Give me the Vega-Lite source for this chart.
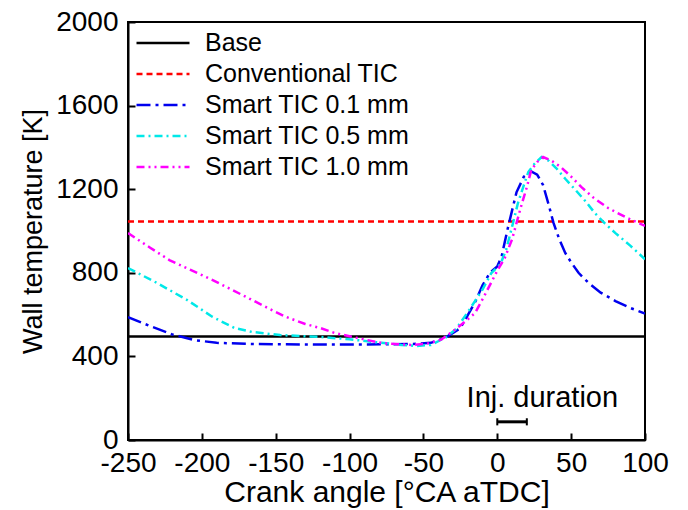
{
  "$schema": "https://vega.github.io/schema/vega-lite/v6.json",
  "autosize": {"type": "none"},
  "padding": {"left": 128, "top": 22, "right": 43, "bottom": 70},
  "width": 517,
  "height": 418,
  "config": {
    "font": "Liberation Sans",
    "view": {"stroke": "black", "strokeWidth": 2},
    "axis": {
      "grid": false,
      "domainColor": "black",
      "domainWidth": 2,
      "tickColor": "black",
      "tickWidth": 2,
      "tickSize": -7,
      "labelColor": "black",
      "titleColor": "black",
      "labelFontSize": 28,
      "titleFontWeight": "normal",
      "labelFont": "Liberation Sans",
      "titleFont": "Liberation Sans",
      "labelOverlap": false,
      "labelFlush": false,
      "labelLimit": 0,
      "labelExpr": "datum.value + ''"
    }
  },
  "data": {
    "values": [
      {"series": "Base", "x": -250, "y": 495},
      {"series": "Base", "x": 100, "y": 495},
      {"series": "Conventional TIC", "x": -250, "y": 1045},
      {"series": "Conventional TIC", "x": 100, "y": 1045},
      {"series": "Smart TIC 0.1 mm", "x": -250, "y": 588},
      {"series": "Smart TIC 0.1 mm", "x": -235, "y": 545},
      {"series": "Smart TIC 0.1 mm", "x": -220, "y": 505},
      {"series": "Smart TIC 0.1 mm", "x": -205, "y": 478},
      {"series": "Smart TIC 0.1 mm", "x": -190, "y": 465},
      {"series": "Smart TIC 0.1 mm", "x": -170, "y": 460},
      {"series": "Smart TIC 0.1 mm", "x": -150, "y": 458},
      {"series": "Smart TIC 0.1 mm", "x": -120, "y": 457},
      {"series": "Smart TIC 0.1 mm", "x": -90, "y": 457},
      {"series": "Smart TIC 0.1 mm", "x": -70, "y": 458},
      {"series": "Smart TIC 0.1 mm", "x": -55, "y": 460},
      {"series": "Smart TIC 0.1 mm", "x": -45, "y": 465},
      {"series": "Smart TIC 0.1 mm", "x": -35, "y": 490},
      {"series": "Smart TIC 0.1 mm", "x": -25, "y": 535},
      {"series": "Smart TIC 0.1 mm", "x": -15, "y": 660},
      {"series": "Smart TIC 0.1 mm", "x": -10, "y": 740},
      {"series": "Smart TIC 0.1 mm", "x": -5, "y": 800},
      {"series": "Smart TIC 0.1 mm", "x": 0, "y": 830},
      {"series": "Smart TIC 0.1 mm", "x": 3, "y": 880},
      {"series": "Smart TIC 0.1 mm", "x": 7, "y": 1010},
      {"series": "Smart TIC 0.1 mm", "x": 13, "y": 1185},
      {"series": "Smart TIC 0.1 mm", "x": 18, "y": 1260},
      {"series": "Smart TIC 0.1 mm", "x": 23, "y": 1285},
      {"series": "Smart TIC 0.1 mm", "x": 27, "y": 1270},
      {"series": "Smart TIC 0.1 mm", "x": 31, "y": 1220},
      {"series": "Smart TIC 0.1 mm", "x": 35, "y": 1120},
      {"series": "Smart TIC 0.1 mm", "x": 38, "y": 1040},
      {"series": "Smart TIC 0.1 mm", "x": 42, "y": 960},
      {"series": "Smart TIC 0.1 mm", "x": 46, "y": 895},
      {"series": "Smart TIC 0.1 mm", "x": 50, "y": 850},
      {"series": "Smart TIC 0.1 mm", "x": 55, "y": 800},
      {"series": "Smart TIC 0.1 mm", "x": 62, "y": 750},
      {"series": "Smart TIC 0.1 mm", "x": 70, "y": 705},
      {"series": "Smart TIC 0.1 mm", "x": 80, "y": 665},
      {"series": "Smart TIC 0.1 mm", "x": 90, "y": 632},
      {"series": "Smart TIC 0.1 mm", "x": 100, "y": 605},
      {"series": "Smart TIC 0.5 mm", "x": -250, "y": 823},
      {"series": "Smart TIC 0.5 mm", "x": -230, "y": 750},
      {"series": "Smart TIC 0.5 mm", "x": -210, "y": 670},
      {"series": "Smart TIC 0.5 mm", "x": -193, "y": 590},
      {"series": "Smart TIC 0.5 mm", "x": -178, "y": 536},
      {"series": "Smart TIC 0.5 mm", "x": -166, "y": 517},
      {"series": "Smart TIC 0.5 mm", "x": -147, "y": 502},
      {"series": "Smart TIC 0.5 mm", "x": -120, "y": 493},
      {"series": "Smart TIC 0.5 mm", "x": -100, "y": 482},
      {"series": "Smart TIC 0.5 mm", "x": -85, "y": 470},
      {"series": "Smart TIC 0.5 mm", "x": -65, "y": 455},
      {"series": "Smart TIC 0.5 mm", "x": -55, "y": 450},
      {"series": "Smart TIC 0.5 mm", "x": -45, "y": 455},
      {"series": "Smart TIC 0.5 mm", "x": -35, "y": 490},
      {"series": "Smart TIC 0.5 mm", "x": -28, "y": 530},
      {"series": "Smart TIC 0.5 mm", "x": -19, "y": 622},
      {"series": "Smart TIC 0.5 mm", "x": -10, "y": 720},
      {"series": "Smart TIC 0.5 mm", "x": -4, "y": 799},
      {"series": "Smart TIC 0.5 mm", "x": 2, "y": 840},
      {"series": "Smart TIC 0.5 mm", "x": 6, "y": 910},
      {"series": "Smart TIC 0.5 mm", "x": 10, "y": 1020},
      {"series": "Smart TIC 0.5 mm", "x": 14, "y": 1134},
      {"series": "Smart TIC 0.5 mm", "x": 18, "y": 1220},
      {"series": "Smart TIC 0.5 mm", "x": 21, "y": 1282},
      {"series": "Smart TIC 0.5 mm", "x": 25, "y": 1320},
      {"series": "Smart TIC 0.5 mm", "x": 30, "y": 1354},
      {"series": "Smart TIC 0.5 mm", "x": 35, "y": 1335},
      {"series": "Smart TIC 0.5 mm", "x": 40, "y": 1300},
      {"series": "Smart TIC 0.5 mm", "x": 46, "y": 1250},
      {"series": "Smart TIC 0.5 mm", "x": 53, "y": 1196},
      {"series": "Smart TIC 0.5 mm", "x": 60, "y": 1140},
      {"series": "Smart TIC 0.5 mm", "x": 66, "y": 1086},
      {"series": "Smart TIC 0.5 mm", "x": 73, "y": 1035},
      {"series": "Smart TIC 0.5 mm", "x": 80, "y": 990},
      {"series": "Smart TIC 0.5 mm", "x": 90, "y": 930},
      {"series": "Smart TIC 0.5 mm", "x": 100, "y": 865},
      {"series": "Smart TIC 1.0 mm", "x": -250, "y": 990},
      {"series": "Smart TIC 1.0 mm", "x": -235, "y": 920},
      {"series": "Smart TIC 1.0 mm", "x": -222, "y": 861},
      {"series": "Smart TIC 1.0 mm", "x": -208, "y": 815},
      {"series": "Smart TIC 1.0 mm", "x": -193, "y": 766},
      {"series": "Smart TIC 1.0 mm", "x": -180, "y": 720},
      {"series": "Smart TIC 1.0 mm", "x": -166, "y": 670},
      {"series": "Smart TIC 1.0 mm", "x": -155, "y": 630},
      {"series": "Smart TIC 1.0 mm", "x": -143, "y": 589},
      {"series": "Smart TIC 1.0 mm", "x": -130, "y": 555},
      {"series": "Smart TIC 1.0 mm", "x": -120, "y": 536},
      {"series": "Smart TIC 1.0 mm", "x": -110, "y": 512},
      {"series": "Smart TIC 1.0 mm", "x": -98, "y": 493},
      {"series": "Smart TIC 1.0 mm", "x": -88, "y": 478},
      {"series": "Smart TIC 1.0 mm", "x": -78, "y": 464},
      {"series": "Smart TIC 1.0 mm", "x": -65, "y": 457},
      {"series": "Smart TIC 1.0 mm", "x": -58, "y": 455},
      {"series": "Smart TIC 1.0 mm", "x": -48, "y": 460},
      {"series": "Smart TIC 1.0 mm", "x": -38, "y": 480},
      {"series": "Smart TIC 1.0 mm", "x": -30, "y": 520},
      {"series": "Smart TIC 1.0 mm", "x": -22, "y": 565},
      {"series": "Smart TIC 1.0 mm", "x": -15, "y": 608},
      {"series": "Smart TIC 1.0 mm", "x": -8, "y": 700},
      {"series": "Smart TIC 1.0 mm", "x": 0, "y": 810},
      {"series": "Smart TIC 1.0 mm", "x": 5, "y": 870},
      {"series": "Smart TIC 1.0 mm", "x": 10, "y": 960},
      {"series": "Smart TIC 1.0 mm", "x": 16, "y": 1115},
      {"series": "Smart TIC 1.0 mm", "x": 20, "y": 1210},
      {"series": "Smart TIC 1.0 mm", "x": 23, "y": 1292},
      {"series": "Smart TIC 1.0 mm", "x": 27, "y": 1330},
      {"series": "Smart TIC 1.0 mm", "x": 31, "y": 1354},
      {"series": "Smart TIC 1.0 mm", "x": 37, "y": 1335},
      {"series": "Smart TIC 1.0 mm", "x": 43, "y": 1306},
      {"series": "Smart TIC 1.0 mm", "x": 50, "y": 1260},
      {"series": "Smart TIC 1.0 mm", "x": 57, "y": 1210},
      {"series": "Smart TIC 1.0 mm", "x": 65, "y": 1160},
      {"series": "Smart TIC 1.0 mm", "x": 75, "y": 1110},
      {"series": "Smart TIC 1.0 mm", "x": 88, "y": 1062},
      {"series": "Smart TIC 1.0 mm", "x": 100, "y": 1025}
    ]
  },
  "encoding": {
    "x": {
      "field": "x", "type": "quantitative",
      "scale": {"domain": [-250, 100], "nice": false},
      "axis": {"values": [-250, -200, -150, -100, -50, 0, 50, 100], "title": "Crank angle [°CA aTDC]", "titleFontSize": 30, "labelPadding": 16, "titlePadding": 0}
    },
    "y": {
      "field": "y", "type": "quantitative",
      "scale": {"domain": [0, 2000], "nice": false},
      "axis": {"values": [0, 400, 800, 1200, 1600, 2000], "title": "Wall temperature [K]", "titleFontSize": 27, "labelPadding": 17, "titlePadding": 8}
    }
  },
  "layer": [
    {
      "mark": {"type": "line", "strokeWidth": 2.5, "clip": true},
      "encoding": {
        "color": {
          "field": "series", "type": "nominal",
          "scale": {
            "domain": ["Base", "Conventional TIC", "Smart TIC 0.1 mm", "Smart TIC 0.5 mm", "Smart TIC 1.0 mm"],
            "range": ["#000000", "#ff0000", "#0000ee", "#00e8e8", "#ff00ff"]
          },
          "legend": {
            "title": null,
            "orient": "none",
            "legendX": 7,
            "legendY": 8,
            "symbolType": "stroke",
            "symbolSize": 2809,
            "symbolStrokeWidth": 2.5,
            "labelFontSize": 25,
            "labelColor": "black",
            "labelOffset": 14,
            "labelLimit": 0,
            "clipHeight": 26,
            "rowPadding": 5,
            "padding": 0,
            "labelFont": "Liberation Sans"
          }
        },
        "strokeDash": {
          "field": "series", "type": "nominal",
          "scale": {
            "domain": ["Base", "Conventional TIC", "Smart TIC 0.1 mm", "Smart TIC 0.5 mm", "Smart TIC 1.0 mm"],
            "range": [[1, 0], [6, 4], [14, 5, 3, 5], [8, 4, 2, 4], [8, 4, 2, 4, 2, 4]]
          },
          "legend": null
        }
      }
    },
    {
      "data": {"values": [{"start": 0, "end": 20, "level": 87}]},
      "mark": {"type": "rule", "color": "black", "strokeWidth": 3},
      "encoding": {"x": {"field": "start", "type": "quantitative"}, "x2": {"field": "end"}, "y": {"field": "level", "type": "quantitative"}}
    },
    {
      "data": {"values": [{"cap": 0, "lo": 70, "hi": 104}, {"cap": 20, "lo": 70, "hi": 104}]},
      "mark": {"type": "rule", "color": "black", "strokeWidth": 2},
      "encoding": {"x": {"field": "cap", "type": "quantitative"}, "y": {"field": "lo", "type": "quantitative"}, "y2": {"field": "hi"}}
    },
    {
      "data": {"values": [{"label": "Inj. duration", "lx": 30.5, "ly": 160}]},
      "mark": {"type": "text", "fontSize": 29, "color": "black", "font": "Liberation Sans", "align": "center", "baseline": "alphabetic"},
      "encoding": {"x": {"field": "lx", "type": "quantitative"}, "y": {"field": "ly", "type": "quantitative"}, "text": {"field": "label"}}
    }
  ]
}
